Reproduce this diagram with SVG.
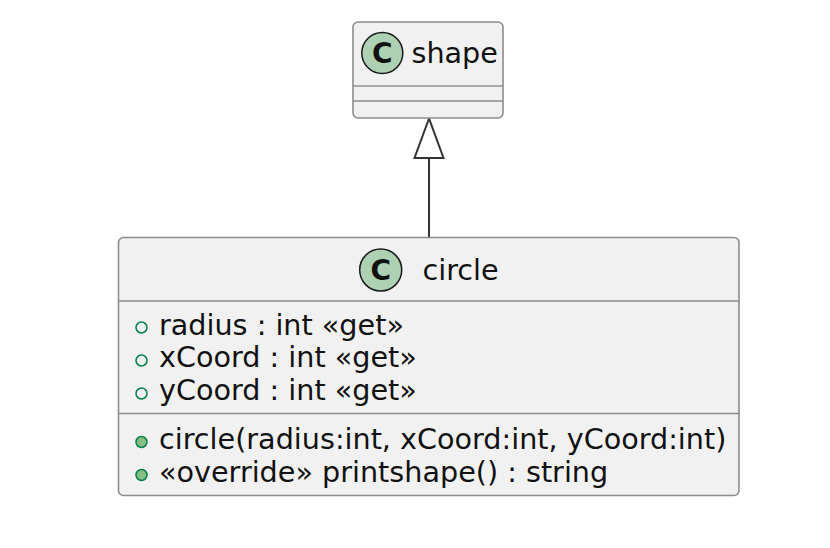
<svg xmlns="http://www.w3.org/2000/svg" width="830" height="548" viewBox="0 0 830 548">
<style>
.box{fill:#F1F1F1;stroke:#8C8C8C;stroke-width:1.6}
.sep{stroke:#8C8C8C;stroke-width:1.6}
.icon{fill:#ADD1B2;stroke:#181818;stroke-width:1.5}
.ic{font-family:"DejaVu Sans",sans-serif;font-weight:bold;font-size:28px;fill:#111;text-anchor:middle}
.t{font-family:"DejaVu Sans",sans-serif;font-size:28.65px;fill:#111}
.va{fill:none;stroke:#038048;stroke-width:1.5}
.vm{fill:#84BE84;stroke:#038048;stroke-width:1.5}
.edge{stroke:#333333;stroke-width:2;fill:none}
</style>
<rect width="830" height="548" fill="#FFFFFF"/>
<g id="connectors">
<line class="edge" x1="429" y1="158" x2="429" y2="237.5"/>
<polygon points="429,118.5 414.5,158 443.5,158" fill="#FFFFFF" stroke="#333333" stroke-width="2"/>
</g>
<g id="shape">
<rect class="box" x="353" y="22" width="150" height="96" rx="5"/>
<circle class="icon" cx="382.3" cy="53" r="20.5"/>
<text class="ic" x="382.3" y="63">C</text>
<text class="t" x="411.5" y="62.5">shape</text>
<line class="sep" x1="353" y1="86" x2="503" y2="86"/>
<line class="sep" x1="353" y1="101" x2="503" y2="101"/>
</g>
<g id="circle">
<rect class="box" x="118.5" y="237.5" width="620.5" height="258" rx="5"/>
<circle class="icon" cx="380.7" cy="270" r="21"/>
<text class="ic" x="380.7" y="280">C</text>
<text class="t" x="422.5" y="279.5">circle</text>
<line class="sep" x1="118.5" y1="301" x2="739" y2="301"/>
<circle class="va" cx="141.5" cy="327.5" r="5.5"/>
<text class="t" x="159" y="334.5">radius : int «get»</text>
<circle class="va" cx="141.5" cy="360.5" r="5.5"/>
<text class="t" x="159" y="367.3">xCoord : int «get»</text>
<circle class="va" cx="141.5" cy="393.5" r="5.5"/>
<text class="t" x="159" y="400">yCoord : int «get»</text>
<line class="sep" x1="118.5" y1="413.5" x2="739" y2="413.5"/>
<circle class="vm" cx="141.5" cy="442" r="5.5"/>
<text class="t" x="159" y="449.3">circle(radius:int, xCoord:int, yCoord:int)</text>
<circle class="vm" cx="141.5" cy="475" r="5.5"/>
<text class="t" x="159" y="482.3">«override» printshape() : string</text>
</g>
</svg>
